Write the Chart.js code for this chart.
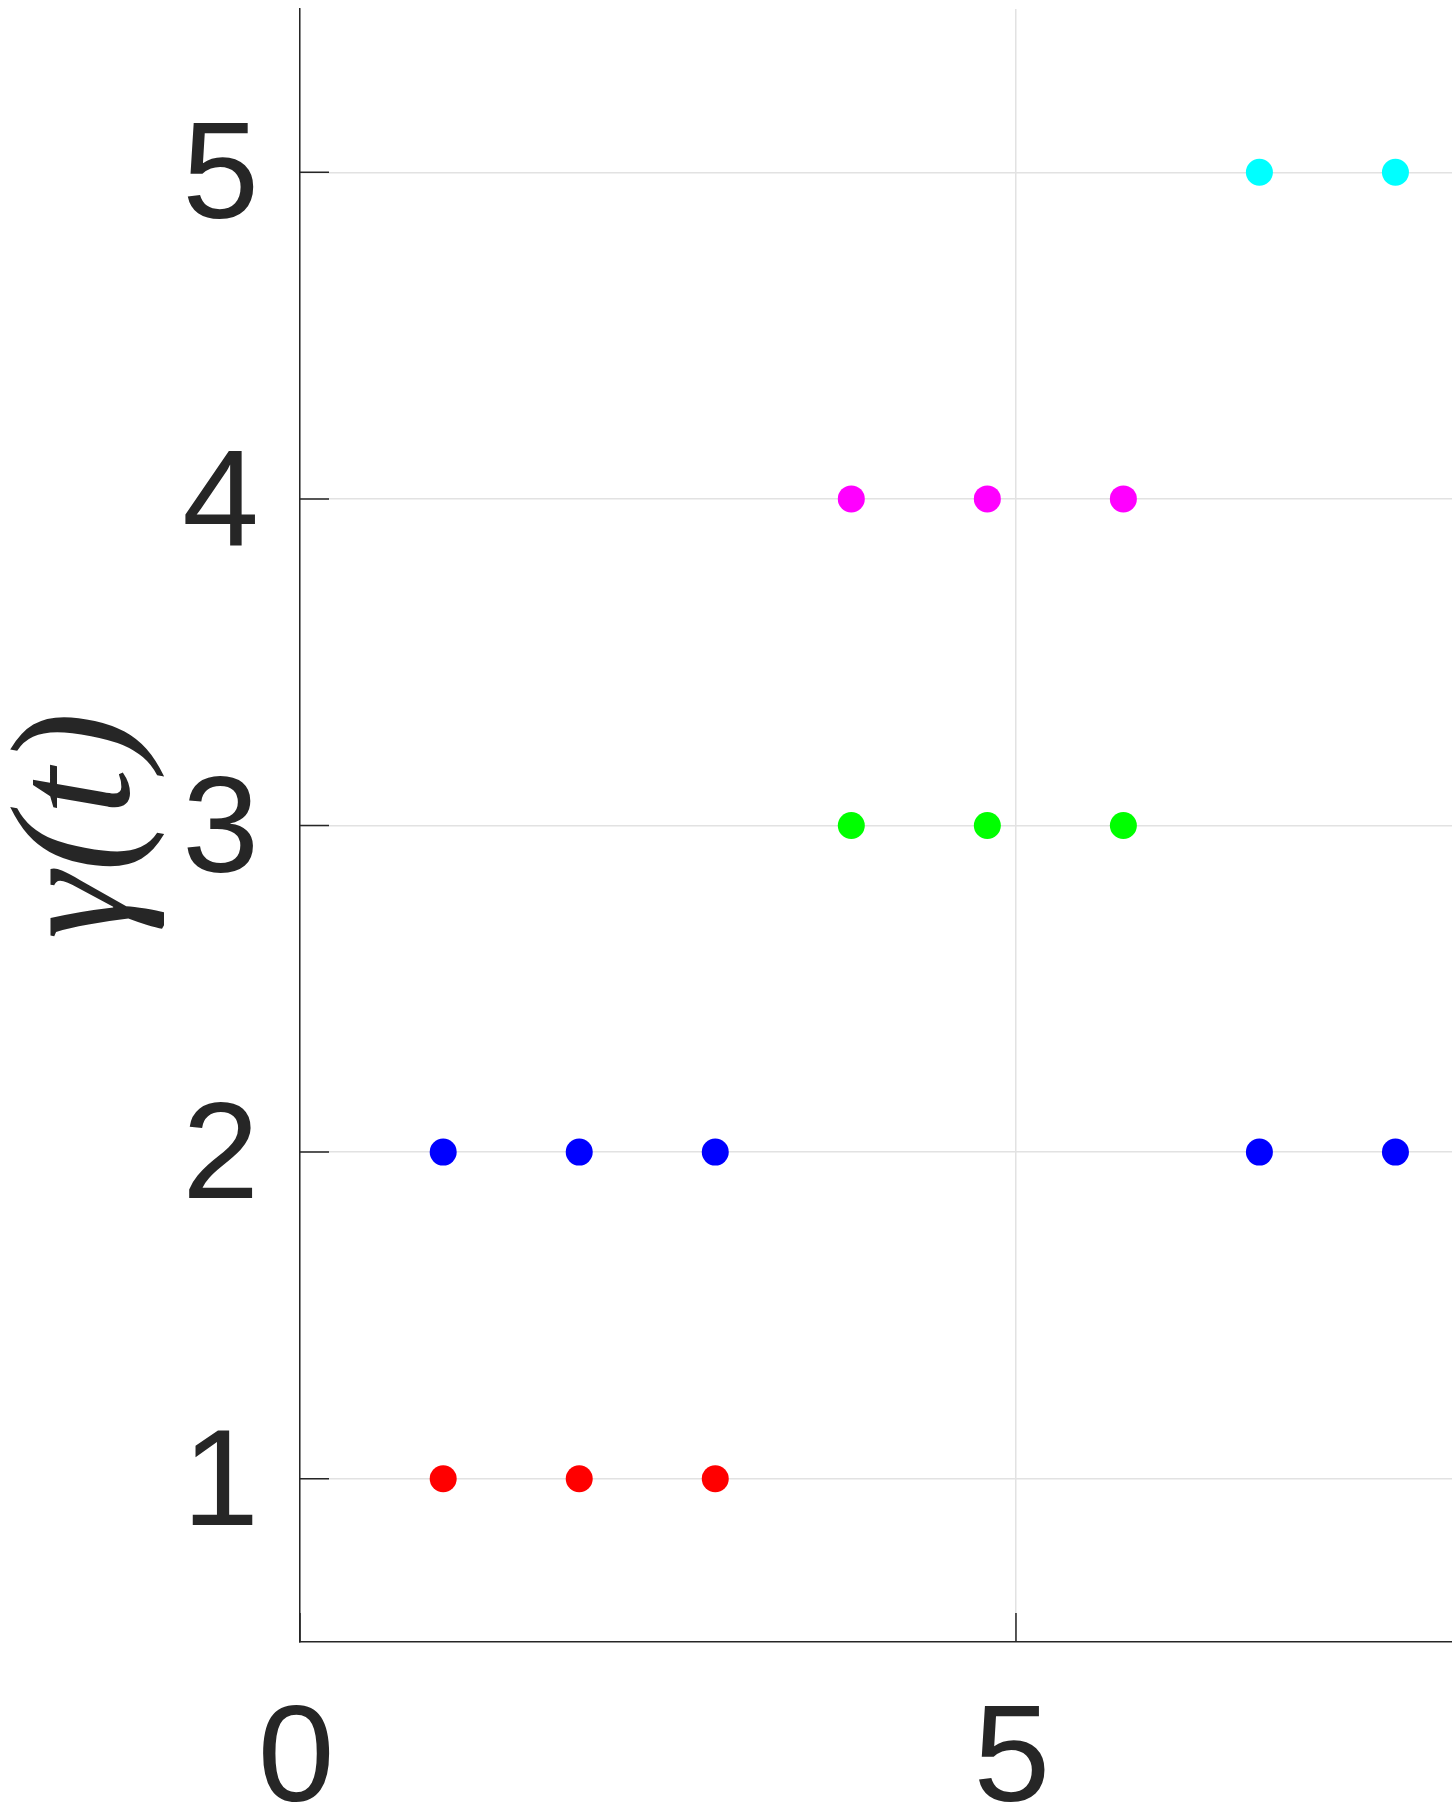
<!DOCTYPE html>
<html>
<head>
<meta charset="utf-8">
<title>gamma(t)</title>
<script src="https://cdn.jsdelivr.net/npm/chart.js@4/dist/chart.umd.min.js"></script>
<style>
    html, body {
        margin: 0;
        padding: 0;
        background: #ffffff;
        overflow: hidden;
    }
    #chartBox {
        width: 1452px;
        height: 1809px;
    }
</style>
</head>
<body>
<div id="chartBox">
    <canvas id="gammaChart" width="1452" height="1809"></canvas>
</div>
<script>
// Data
const redX = [1, 1.95, 2.9];
const redY = [1, 1, 1];
const blueX = [1, 1.95, 2.9, 6.7, 7.65];
const blueY = [2, 2, 2, 2, 2];
const greenX = [3.85, 4.8, 5.75];
const greenY = [3, 3, 3];
const magentaX = [3.85, 4.8, 5.75];
const magentaY = [4, 4, 4];
const cyanX = [6.7, 7.65];
const cyanY = [5, 5];

const xTicks = [0, 5];
const yTicks = [1, 2, 3, 4, 5];
const xRange = [0, 8.045];
const yRange = [0.5, 5.5];

const AXIS_COLOR = '#262626';
const GRID_COLOR = '#e2e2e2';

function toPoints(xs, ys) {
    return xs.map((x, i) => ({ x: x, y: ys[i] }));
}

function makeSet(label, xs, ys, color) {
    return {
        label: label,
        data: toPoints(xs, ys),
        backgroundColor: color,
        borderColor: color,
        borderWidth: 0,
        pointRadius: 13.5,
        pointHoverRadius: 13.5,
        showLine: false
    };
}

// MATLAB style tick marks, pointing into the axes
const innerTicks = {
    id: 'innerTicks',
    afterDatasetsDraw(chart) {
        const ctx = chart.ctx;
        const xs = chart.scales.x;
        const ys = chart.scales.y;
        const area = chart.chartArea;
        const len = 29;
        ctx.save();
        ctx.strokeStyle = AXIS_COLOR;
        ctx.lineWidth = 1.5;
        ctx.beginPath();
        yTicks.forEach(v => {
            const py = ys.getPixelForValue(v);
            ctx.moveTo(area.left, py);
            ctx.lineTo(area.left + len, py);
        });
        xTicks.forEach(v => {
            const px = xs.getPixelForValue(v);
            ctx.moveTo(px, area.bottom);
            ctx.lineTo(px, area.bottom - len);
        });
        ctx.stroke();
        ctx.restore();
    }
};

const tickFont = { family: '"Liberation Sans", Arial, sans-serif', size: 138 };

new Chart(document.getElementById('gammaChart'), {
    type: 'scatter',
    data: {
        datasets: [
            makeSet('red', redX, redY, '#ff0000'),
            makeSet('blue', blueX, blueY, '#0000ff'),
            makeSet('green', greenX, greenY, '#00ff00'),
            makeSet('magenta', magentaX, magentaY, '#ff00ff'),
            makeSet('cyan', cyanX, cyanY, '#00ffff')
        ]
    },
    options: {
        responsive: false,
        animation: false,
        devicePixelRatio: 1,
        layout: {
            autoPadding: false,
            padding: { top: 9, right: 0, left: 0, bottom: 0 }
        },
        plugins: {
            legend: { display: false },
            tooltip: { enabled: false }
        },
        scales: {
            x: {
                type: 'linear',
                min: xRange[0],
                max: xRange[1],
                afterBuildTicks: function(scale) {
                    scale.ticks = xTicks.map(v => ({ value: v }));
                },
                afterFit: function(scale) {
                    scale.height = 167;
                    scale.paddingLeft = 0;
                    scale.paddingRight = 0;
                },
                grid: {
                    color: GRID_COLOR,
                    lineWidth: 1.5,
                    drawTicks: false
                },
                border: {
                    color: AXIS_COLOR,
                    width: 1.5
                },
                ticks: {
                    color: AXIS_COLOR,
                    font: tickFont,
                    padding: 38,
                    labelOffset: -4,
                    maxRotation: 0,
                    callback: function(value) {
                        return String(value);
                    }
                }
            },
            y: {
                type: 'linear',
                min: yRange[0],
                max: yRange[1],
                afterBuildTicks: function(scale) {
                    scale.ticks = yTicks.map(v => ({ value: v }));
                },
                afterFit: function(scale) {
                    scale.width = 300;
                    scale.paddingTop = 0;
                    scale.paddingBottom = 0;
                },
                grid: {
                    color: GRID_COLOR,
                    lineWidth: 1.5,
                    drawTicks: false
                },
                border: {
                    color: AXIS_COLOR,
                    width: 1.5
                },
                ticks: {
                    color: AXIS_COLOR,
                    font: tickFont,
                    padding: 41,
                    labelOffset: 8,
                    callback: function(value) {
                        return String(value);
                    }
                },
                title: {
                    display: true,
                    text: 'γ(t)',
                    color: AXIS_COLOR,
                    font: {
                        family: '"Liberation Serif", "DejaVu Serif", serif',
                        style: 'italic',
                        size: 170,
                        lineHeight: 1
                    },
                    padding: { top: -2, bottom: 0 }
                }
            }
        }
    },
    plugins: [innerTicks]
});
</script>
</body>
</html>
